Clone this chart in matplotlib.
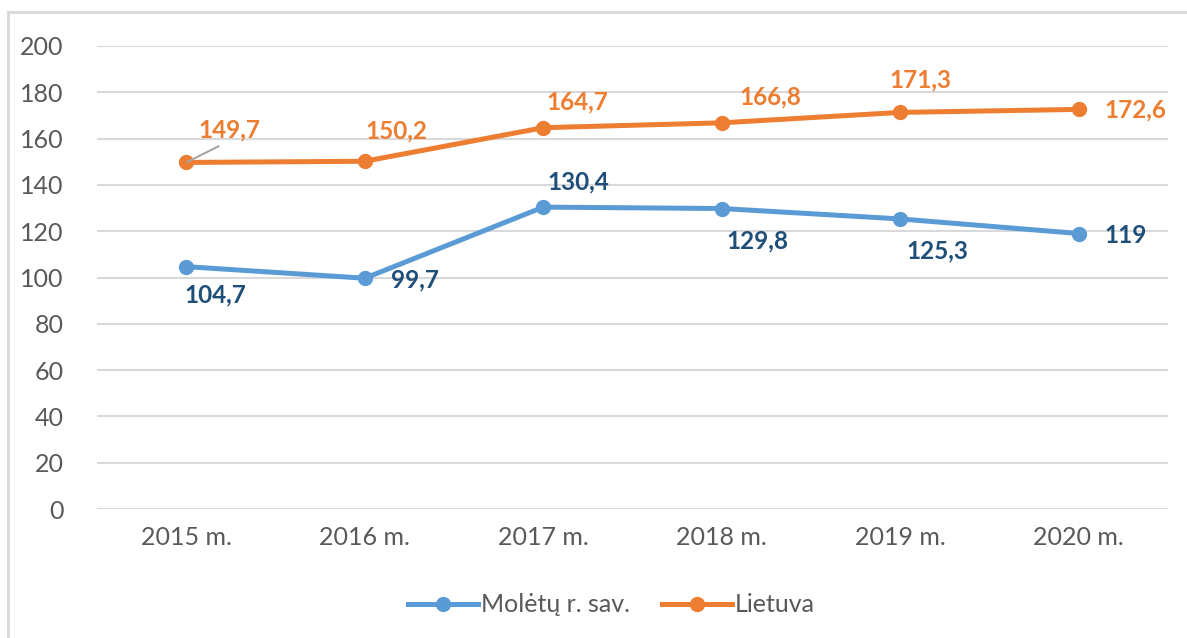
import matplotlib
matplotlib.use('Agg')
from matplotlib import pyplot as plt
from matplotlib.lines import Line2D

years = ['2015 m.', '2016 m.', '2017 m.', '2018 m.', '2019 m.', '2020 m.']
moletu = [104.7, 99.7, 130.4, 129.8, 125.3, 119]
lietuva = [149.7, 150.2, 164.7, 166.8, 171.3, 172.6]
moletu_labels = ['104,7', '99,7', '130,4', '129,8', '125,3', '119']
lietuva_labels = ['149,7', '150,2', '164,7', '166,8', '171,3', '172,6']

# label offsets in pixels (dx, dy)
moletu_off = [(29, -28), (50, -2), (35, 25), (36, -32), (37, -32), (47, -2)]
lietuva_off = [(43, 33), (32, 30), (34, 26), (49, 26), (20, 32), (57, -1)]

blue = '#5B9BD5'
orange = '#ED7D31'
dark_blue = '#1F4E79'
tick_col = '#595959'
grid_col = '#D9D9D9'

plt.rcParams['font.family'] = ['Lato', 'DejaVu Sans']

fig = plt.figure(figsize=(11.87, 6.38), dpi=100)
ax = fig.add_axes([0.0817, 0.202, 0.9023, 0.726])

x = list(range(len(years)))
ax.plot(x, moletu, color=blue, lw=3.6, marker='o', ms=10, solid_capstyle='round')
ax.plot(x, lietuva, color=orange, lw=3.6, marker='o', ms=10, solid_capstyle='round')

for i in x:
    ax.annotate(moletu_labels[i], (i, moletu[i]), xytext=moletu_off[i],
                textcoords='offset pixels', ha='center', va='center',
                fontsize=17.5, fontweight='bold', color=dark_blue)
    props = None
    if i == 0:
        # leader line from the first label back to its point
        props = dict(arrowstyle='-', color='#A6A6A6', lw=1.5,
                     relpos=(0.5, 0.0), shrinkA=4, shrinkB=1)
    ax.annotate(lietuva_labels[i], (i, lietuva[i]), xytext=lietuva_off[i],
                textcoords='offset pixels', ha='center', va='center',
                fontsize=17.5, fontweight='bold', color=orange, arrowprops=props)

ax.set_xlim(-0.5, 5.5)
ax.set_ylim(0, 200)
ax.set_yticks(range(0, 201, 20))
ax.set_xticks(x)
ax.set_xticklabels(years)
ax.grid(axis='y', color=grid_col, lw=1.5)
ax.set_axisbelow(True)
for s in ax.spines.values():
    s.set_visible(False)
ax.tick_params(length=0, labelsize=18, colors=tick_col, pad=12)
ax.tick_params(axis='y', pad=24)

handles = [Line2D([], [], color=blue, lw=3.6, marker='o', ms=10),
           Line2D([], [], color=orange, lw=3.6, marker='o', ms=10)]
leg = fig.legend(handles, ['Molėtų r. sav.', 'Lietuva'], loc='center',
                 bbox_to_anchor=(0.515, 0.052), ncol=2, frameon=False,
                 fontsize=18, handlelength=2.8, handletextpad=0.1,
                 columnspacing=1.3)
for t in leg.get_texts():
    t.set_color(tick_col)

# outer chart frame (top and left edges visible)
fig.add_artist(Line2D([0.0067, 1.0], [0.981, 0.981], color=grid_col, lw=2,
                      transform=fig.transFigure))
fig.add_artist(Line2D([0.0067, 0.0067], [0.0, 0.981], color=grid_col, lw=2,
                      transform=fig.transFigure))

fig.savefig('out.png', dpi=100)
